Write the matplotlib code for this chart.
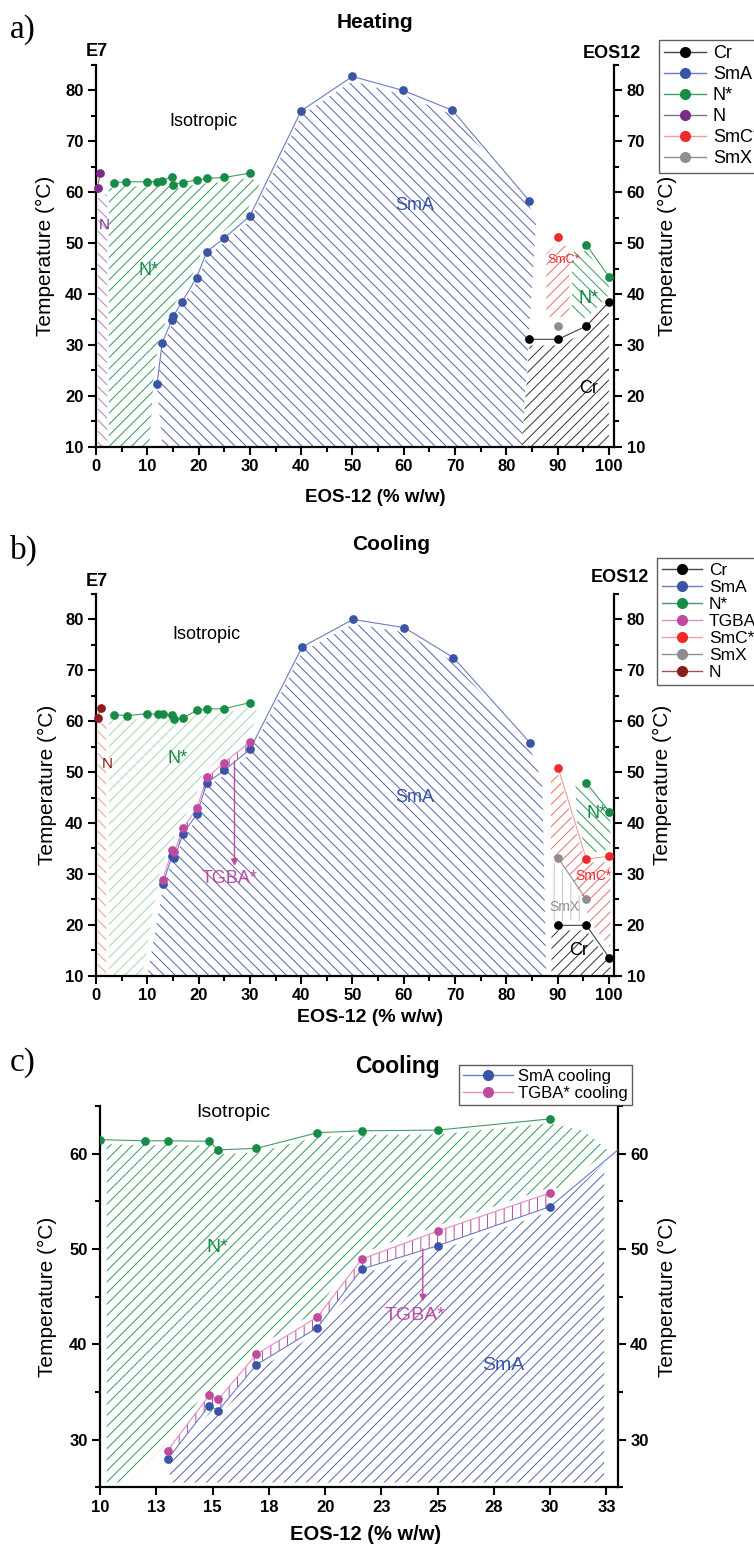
import matplotlib
matplotlib.use('Agg')
import matplotlib.pyplot as plt
from matplotlib.lines import Line2D
from matplotlib.ticker import MultipleLocator, FixedLocator, FixedFormatter

plt.rcParams['font.family'] = ['Liberation Sans', 'DejaVu Sans']
plt.rcParams['hatch.linewidth'] = 0.7

# ---------------- data: (a) heating ----------------
a_n_x = [0.3, 0.8]
a_n_T = [60.9, 63.8]
a_nstar_x = [3.5, 5.9, 9.9, 11.9, 12.9, 14.8, 15.1, 16.9, 19.6, 21.6, 25.0, 30.0]
a_nstar_T = [61.85, 62.05, 62.05, 62.1, 62.3, 63.0, 61.5, 61.9, 62.4, 62.7, 62.9, 63.75]
a_sma_x = [11.9, 12.9, 14.8, 15.1, 16.8, 19.6, 21.6, 25.0, 30.0, 40.0, 50.0, 59.9, 69.5, 84.5]
a_sma_T = [22.3, 30.4, 34.9, 35.7, 38.5, 43.2, 48.3, 51.0, 55.3, 76.0, 82.75, 80.0, 76.1, 58.3]
a_cr_x = [84.5, 90.1, 95.6, 100.0]
a_cr_T = [31.1, 31.1, 33.7, 38.4]
a_smc_x = [90.1]
a_smc_T = [51.3]
a_nstar2_x = [95.6, 100.0]
a_nstar2_T = [49.7, 43.4]
a_smx_x = [90.1]
a_smx_T = [33.7]

# ---------------- data: (b)/(c) cooling ----------------
b_n_x = [0.3, 0.9]
b_n_T = [60.7, 62.6]
b_nstar_x = [3.5, 6.0, 10.0, 12.0, 13.0, 14.85, 15.25, 16.95, 19.66, 21.63, 25.0, 30.0]
b_nstar_T = [61.3, 61.1, 61.47, 61.35, 61.35, 61.3, 60.4, 60.55, 62.2, 62.4, 62.47, 63.65]
b_sma_x = [13.0, 14.85, 15.25, 16.95, 19.66, 21.63, 25.0, 30.0, 40.2, 50.1, 60.1, 69.7, 84.6]
b_sma_T = [27.94, 33.56, 33.03, 37.85, 41.75, 47.9, 50.34, 54.45, 74.6, 80.0, 78.4, 72.5, 55.8]
b_tgba_x = [13.0, 14.85, 15.25, 16.95, 19.66, 21.63, 25.0, 30.0]
b_tgba_T = [28.85, 34.64, 34.22, 38.96, 42.87, 48.95, 51.88, 55.89]
b_smc_x = [90.1, 95.6, 100.1]
b_smc_T = [50.9, 32.9, 33.5]
b_nstar2_x = [95.6, 100.1]
b_nstar2_T = [47.9, 42.2]
b_smx_x = [90.1, 95.6]
b_smx_T = [33.1, 25.0]
b_cr_x = [90.1, 95.6, 100.1]
b_cr_T = [19.9, 19.9, 13.5]

c_xticks = [10, 12.5, 15, 17.5, 20, 22.5, 25, 27.5, 30, 32.5]
c_xticklabels = ['10', '13', '15', '18', '20', '23', '25', '28', '30', '33']

legend_a = ['Cr', 'SmA', 'N*', 'N', 'SmC*', 'SmX']
legend_b = ['Cr', 'SmA', 'N*', 'TGBA*', 'SmC*', 'SmX', 'N']
legend_c = ['SmA cooling', 'TGBA* cooling']

# ---------------- colours ----------------
BLUE = '#3a55a6'; BLUE_L = '#6b7cc2'; BLUE_H = '#5262b2'
GREEN = '#178c47'; GREEN_L = '#3f9c63'; GREEN_H = '#2f9a5c'; GREEN_HB = '#a5d4ae'
PURPLE = '#7d2b8b'; PURPLE_H = '#b07fc0'
RED = '#ee2a2a'; RED_L = '#f39a9a'; RED_H = '#f06a6a'
GRAY = '#8e8e8e'; GRAY_H = '#c4c4c4'
PINK = '#c04a9e'; PINK_L = '#dc8fc6'
DRED = '#8b1c1c'; DRED_H = '#e4a08a'
BLACK = '#000000'; BLACK_H = '#333333'

HD = '///'    # diagonal hatch for panels a, b
HB = '\\\\\\'
HC = '///'    # panel c

W, H = 754, 1545
fig = plt.figure(figsize=(W / 100, H / 100), dpi=100)


def ax_at(l, t, r, b):
    return fig.add_axes([l / W, 1 - b / H, (r - l) / W, (b - t) / H])


axa = ax_at(96, 65, 614, 446.7)
axb = ax_at(96, 594, 614, 975.7)
axc = ax_at(100, 1106, 617.7, 1487.3)


def style(ax):
    ax.spines['top'].set_visible(False)
    for s in ['left', 'right', 'bottom']:
        ax.spines[s].set_linewidth(1.6)
    ax.tick_params(which='both', direction='out', width=1.5, labelsize=12,
                   right=True, labelright=True, pad=3)
    ax.tick_params(which='major', length=6)
    ax.tick_params(which='minor', length=3.5)


def boldticks(ax):
    for t in ax.xaxis.get_major_ticks():
        t.label1.set_fontweight('bold')
    for t in ax.yaxis.get_major_ticks():
        t.label1.set_fontweight('bold')
        t.label2.set_fontweight('bold')


def series(ax, x, y, mc, lc, clip=False, ms=6.3):
    ax.plot(x, y, '-', color=lc, lw=0.8, zorder=3)
    ax.plot(x, y, 'o', color=mc, ms=ms, mec='none', zorder=4, clip_on=clip)


def region(ax, xs, ys, color, hatch):
    ax.fill(xs, ys, facecolor='none', edgecolor=color, hatch=hatch, linewidth=0, zorder=1)


# =============== (a) Heating ===============
ax = axa
ax.set_xlim(0, 101)
ax.set_ylim(10, 85)
style(ax)
ax.xaxis.set_major_locator(MultipleLocator(10))
ax.xaxis.set_minor_locator(MultipleLocator(5))
ax.yaxis.set_major_locator(MultipleLocator(10))
ax.yaxis.set_minor_locator(MultipleLocator(5))

region(ax, [0.4, 0.4, 2.2, 2.2], [10, 60, 59.5, 10], PURPLE_H, HB)
gx = [2.5, 2.5] + a_nstar_x + [32.0] + [x - 0.7 for x in a_sma_x[8::-1]] + [10.4]
gy = [10, 61.0] + [t - 0.9 for t in a_nstar_T] + [61.8] + [t + 0.8 for t in a_sma_T[8::-1]] + [10]
region(ax, gx, gy, GREEN_H, HD)
sx = [13.0] + a_sma_x + [85.8, 83.0]
sy = [10] + [t - 0.9 for t in a_sma_T] + [54.0, 10]
region(ax, sx, sy, BLUE_H, HB)
region(ax, [83.0] + a_cr_x + [100.0], [10] + [t - 1.2 for t in a_cr_T] + [10], BLACK_H, HD)
region(ax, [87.8, 87.8, 89.5, 92.3, 92.3], [35.5, 48.0, 49.5, 49.5, 35.5], RED_H, HD)
region(ax, [92.8, 92.8, 95.6, 100.0, 100.0, 95.6], [36.0, 48.3, 48.5, 42.3, 39.8, 35.2], GREEN_H, HB)

series(ax, a_cr_x, a_cr_T, BLACK, '#444444')
series(ax, a_sma_x, a_sma_T, BLUE, BLUE_L)
series(ax, a_nstar_x, a_nstar_T, GREEN, GREEN_L)
series(ax, a_nstar2_x, a_nstar2_T, GREEN, GREEN_L)
series(ax, a_n_x, a_n_T, PURPLE, '#777777')
series(ax, a_smc_x, a_smc_T, RED, RED_L)
series(ax, a_smx_x, a_smx_T, GRAY, GRAY)

ax.text(20.9, 73.9, 'Isotropic', fontsize=13, ha='center', va='center')
ax.text(62.2, 57.3, 'SmA', fontsize=13, color=BLUE, ha='center', va='center')
ax.text(10.2, 44.7, 'N*', fontsize=13, color=GREEN, ha='center', va='center')
ax.text(1.6, 53.6, 'N', fontsize=11, color=PURPLE, ha='center', va='center')
ax.text(91.1, 46.7, 'SmC*', fontsize=9, color=RED, ha='center', va='center')
ax.text(96.0, 39.2, 'N*', fontsize=13, color=GREEN, ha='center', va='center')
ax.text(96.0, 21.5, 'Cr', fontsize=13, color=BLACK, ha='center', va='center')
boldticks(ax)

# =============== (b) Cooling ===============
ax = axb
ax.set_xlim(0, 101)
ax.set_ylim(10, 85)
style(ax)
ax.xaxis.set_major_locator(MultipleLocator(10))
ax.xaxis.set_minor_locator(MultipleLocator(5))
ax.yaxis.set_major_locator(MultipleLocator(10))
ax.yaxis.set_minor_locator(MultipleLocator(5))

region(ax, [0.4, 0.4, 2.0, 2.0], [10, 60, 59.5, 10], DRED_H, HB)
gx = [2.5, 2.5] + b_nstar_x + [32.0] + [x - 0.7 for x in b_tgba_x[::-1]] + [9.0]
gy = [10, 60.5] + [t - 0.9 for t in b_nstar_T] + [61.8] + [t + 0.9 for t in b_tgba_T[::-1]] + [10]
region(ax, gx, gy, GREEN_HB, HD)
sx = [10.0] + b_sma_x + [87.0, 87.8]
sy = [10] + [t - 0.9 for t in b_sma_T] + [48.0, 10]
region(ax, sx, sy, BLUE_H, HB)
ax.fill_between(b_tgba_x, b_sma_T[:len(b_tgba_x)], b_tgba_T, facecolor='none',
                edgecolor=PINK, hatch='||', linewidth=0, zorder=1)
region(ax, [88.7, 88.7, 90.2, 95.4, 100.3, 100.3, 96.0, 95.6, 90.8],
       [33.5, 48.5, 49.5, 32.3, 32.3, 15.5, 21.0, 24.0, 32.5], RED_H, HD)
region(ax, [93.5, 95.6, 100.3, 100.3, 95.8, 93.8], [47.5, 47.3, 41.5, 34.8, 34.0, 40.0], GREEN_H, HB)
region(ax, [88.8, 88.8, 89.8, 94.8, 94.8], [20.8, 31.5, 32.5, 25.0, 20.8], GRAY_H, '||')
region(ax, [88.8, 88.8, 95.6, 100.3, 100.3], [10, 18.9, 18.9, 12.5, 10], BLACK_H, HD)

series(ax, b_cr_x, b_cr_T, BLACK, '#444444')
series(ax, b_sma_x, b_sma_T, BLUE, BLUE_L)
series(ax, b_nstar_x, b_nstar_T, GREEN, GREEN_L)
series(ax, b_nstar2_x, b_nstar2_T, GREEN, GREEN_L)
series(ax, b_tgba_x, b_tgba_T, PINK, PINK_L)
series(ax, b_smc_x, b_smc_T, RED, RED_L)
series(ax, b_smx_x, b_smx_T, GRAY, GRAY)
series(ax, b_n_x, b_n_T, DRED, '#a05050')

ax.annotate('', xy=(27.0, 31.0), xytext=(27.0, 52.7),
            arrowprops=dict(arrowstyle='-|>', color=PINK, lw=1.0, mutation_scale=10), zorder=5)
ax.text(21.6, 77.1, 'Isotropic', fontsize=13, ha='center', va='center')
ax.text(2.2, 51.6, 'N', fontsize=11, color=DRED, ha='center', va='center')
ax.text(16.0, 52.6, 'N*', fontsize=13, color=GREEN, ha='center', va='center')
ax.text(62.2, 45.0, 'SmA', fontsize=13, color=BLUE, ha='center', va='center')
ax.text(26.1, 29.1, 'TGBA*', fontsize=13, color=PINK, ha='center', va='center')
ax.text(97.6, 41.8, 'N*', fontsize=13, color=GREEN, ha='center', va='center')
ax.text(96.9, 29.6, 'SmC*', fontsize=10, color=RED, ha='center', va='center')
ax.text(91.4, 23.5, 'SmX', fontsize=10, color=GRAY, ha='center', va='center')
ax.text(94.0, 15.0, 'Cr', fontsize=13, color=BLACK, ha='center', va='center')
boldticks(ax)

# =============== (c) Cooling zoom ===============
ax = axc
ax.set_xlim(10, 33)
ax.set_ylim(25, 65)
style(ax)
ax.xaxis.set_major_locator(FixedLocator(c_xticks))
ax.xaxis.set_major_formatter(FixedFormatter(c_xticklabels))
ax.yaxis.set_major_locator(MultipleLocator(10))
ax.yaxis.set_minor_locator(MultipleLocator(5))

gx = [10.3, 10.3] + b_nstar_x[2:] + [31.5, 32.6, 30.4] + [x - 0.15 for x in b_tgba_x[::-1]] + [11.2]
gy = [25.5, 61.1] + [t - 0.45 for t in b_nstar_T[2:]] + [62.4, 60.3, 56.4] + [t + 0.45 for t in b_tgba_T[::-1]] + [25.5]
region(ax, gx, gy, GREEN_H, HC)
sx = [13.1] + [x + 0.1 for x in b_sma_x[:8]] + [32.4, 32.4]
sy = [25.5] + [t - 0.45 for t in b_sma_T[:8]] + [59.0, 25.5]
region(ax, sx, sy, BLUE_H, HC)
ax.fill_between(b_tgba_x, b_sma_T[:len(b_tgba_x)], b_tgba_T, facecolor='none',
                edgecolor=PINK, hatch='||', linewidth=0, zorder=1)

ax.plot(b_nstar_x, b_nstar_T, '-', color=GREEN_L, lw=0.8, zorder=3)
ax.plot(b_nstar_x, b_nstar_T, 'o', color=GREEN, ms=6.3, mec='none', zorder=4)
ax.plot(b_sma_x, b_sma_T, '-', color=BLUE_L, lw=0.8, zorder=3)
ax.plot(b_sma_x, b_sma_T, 'o', color=BLUE, ms=6.3, mec='none', zorder=4)
ax.plot(b_tgba_x, b_tgba_T, '-', color=PINK_L, lw=0.8, zorder=3)
ax.plot(b_tgba_x, b_tgba_T, 'o', color=PINK, ms=6.3, mec='none', zorder=4)

ax.annotate('', xy=(24.34, 44.2), xytext=(24.34, 50.3),
            arrowprops=dict(arrowstyle='-|>', color=PINK, lw=1.0, mutation_scale=10), zorder=5)
ax.text(15.93, 64.3, 'Isotropic', fontsize=14, ha='center', va='center')
ax.text(15.19, 50.2, 'N*', fontsize=14, color=GREEN, ha='center', va='center')
ax.text(24.0, 43.0, 'TGBA*', fontsize=14, color=PINK, ha='center', va='center')
ax.text(27.9, 37.8, 'SmA', fontsize=14, color=BLUE, ha='center', va='center')
boldticks(ax)

# ---------------- axis labels / titles ----------------
for ax, lx, rx in [(axa, 45, 667), (axb, 47, 662), (axc, 47, 667)]:
    pos = ax.get_position()
    yc = (pos.y0 + pos.y1) / 2
    fig.text(lx / W, yc, 'Temperature (°C)', rotation=90, fontsize=15, ha='center', va='center')
    fig.text(rx / W, yc, 'Temperature (°C)', rotation=90, fontsize=15, ha='center', va='center')

fig.text(375 / W, 1 - 498 / H, 'EOS-12 (% w/w)', fontsize=13.5, fontweight='bold', ha='center', va='center')
fig.text(370 / W, 1 - 1017 / H, 'EOS-12 (% w/w)', fontsize=14, fontweight='bold', ha='center', va='center')
fig.text(366 / W, 1 - 1535 / H, 'EOS-12 (% w/w)', fontsize=14.5, fontweight='bold', ha='center', va='center')

fig.text(375 / W, 1 - 23 / H, 'Heating', fontsize=15, fontweight='bold', ha='center', va='center')
fig.text(391 / W, 1 - 545 / H, 'Cooling', fontsize=15, fontweight='bold', ha='center', va='center')
fig.text(398 / W, 1 - 1066 / H, 'Cooling', fontsize=16.5, fontweight='bold', ha='center', va='center')

fig.text(96.7 / W, 1 - 52 / H, 'E7', fontsize=13, fontweight='bold', ha='center', va='center')
fig.text(611.7 / W, 1 - 53 / H, 'EOS12', fontsize=13, fontweight='bold', ha='center', va='center')
fig.text(96.7 / W, 1 - 582 / H, 'E7', fontsize=13, fontweight='bold', ha='center', va='center')
fig.text(620 / W, 1 - 577 / H, 'EOS12', fontsize=13, fontweight='bold', ha='center', va='center')

for lab, yy in [('a)', 30), ('b)', 550), ('c)', 1063)]:
    fig.text(10 / W, 1 - yy / H, lab, fontsize=24, family='Liberation Serif', ha='left', va='center')

# ---------------- legends ----------------
def handle(mc, lc):
    return Line2D([], [], color=lc, lw=1.0, marker='o', mfc=mc, mec=mc, ms=7)

ha_ = [handle(BLACK, '#444444'), handle(BLUE, BLUE_L), handle(GREEN, GREEN_L),
       handle(PURPLE, '#777777'), handle(RED, RED_L), handle(GRAY, GRAY)]
leg = fig.legend(ha_, legend_a, loc='upper left', bbox_to_anchor=(658.7 / W, 1 - 40 / H),
                 frameon=True, fancybox=False, edgecolor='#333333', fontsize=13,
                 handlelength=2.3, labelspacing=0.22, borderpad=0.3, handletextpad=0.4,
                 borderaxespad=0)
leg.get_frame().set_linewidth(1.0)

hb_ = [handle(BLACK, '#444444'), handle(BLUE, BLUE_L), handle(GREEN, GREEN_L),
       handle(PINK, PINK_L), handle(RED, RED_L), handle(GRAY, GRAY), handle(DRED, '#a05050')]
leg = fig.legend(hb_, legend_b, loc='upper left', bbox_to_anchor=(656.7 / W, 1 - 558 / H),
                 frameon=True, fancybox=False, edgecolor='#333333', fontsize=12.5,
                 handlelength=2.3, labelspacing=0.1, borderpad=0.3, handletextpad=0.4,
                 borderaxespad=0)
leg.get_frame().set_linewidth(1.0)

hc_ = [handle(BLUE, BLUE_L), handle(PINK, PINK_L)]
leg = fig.legend(hc_, legend_c, loc='upper left', bbox_to_anchor=(459 / W, 1 - 1065 / H),
                 frameon=True, fancybox=False, edgecolor='#333333', fontsize=12,
                 handlelength=3.0, labelspacing=0.1, borderpad=0.25, handletextpad=0.3,
                 borderaxespad=0)
leg.get_frame().set_linewidth(1.0)

fig.savefig('out.png', dpi=100)
